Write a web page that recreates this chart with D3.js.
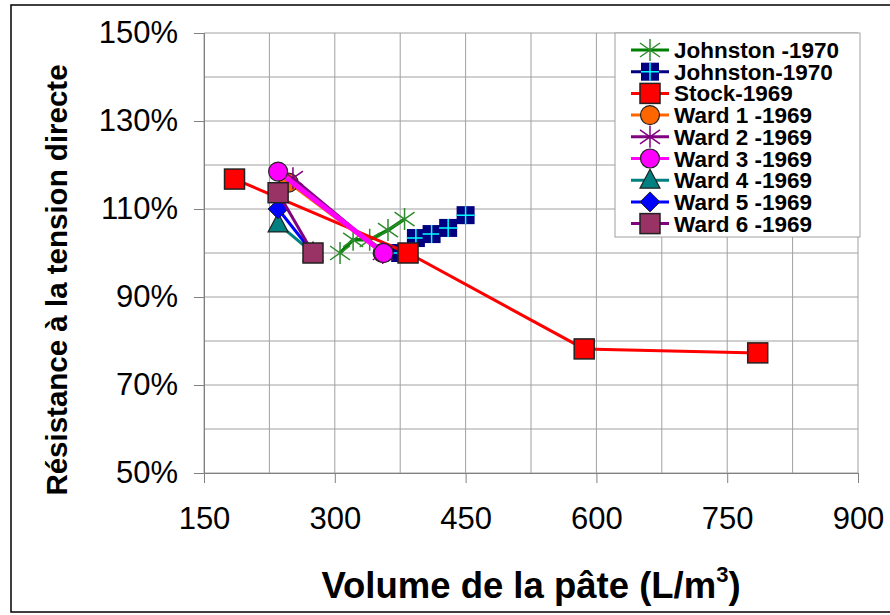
<!DOCTYPE html>
<html>
<head>
<meta charset="utf-8">
<script src="https://cdn.jsdelivr.net/npm/d3@7"></script>
<style>
  body { margin: 0; background: #fff; }
  text { font-family: Arial, "Liberation Sans", sans-serif; }
</style>
</head>
<body>
<svg id="chart" width="890" height="615"></svg>
<script>
// data
const xTicks = [150, 300, 450, 600, 750, 900];
const yTicks = [50, 70, 90, 110, 130, 150];

const johnstonA_x = [306, 321, 340, 361, 380];
const johnstonA_y = [100, 103, 103, 105.2, 107.7];
const johnstonB_x = [375, 393, 411, 430, 450];
const johnstonB_y = [100, 103.4, 104.3, 105.7, 108.6];
const stock_x = [185, 384, 586, 785];
const stock_y = [116.8, 100, 78.2, 77.3];
const ward1_x = [247, 355], ward1_y = [116, 100];
const ward2_x = [252, 355], ward2_y = [117, 100];
const ward3_x = [235, 356], ward3_y = [118.5, 100];
const ward4_x = [235, 275], ward4_y = [106.6, 100];
const ward5_x = [235, 275], ward5_y = [110, 100];
const ward6_x = [235, 275], ward6_y = [113.7, 100];

const series = [
  {name: "Johnston -1970", xs: johnstonA_x, ys: johnstonA_y, color: "#008000", marker: "star", mcolor: "#2e8b2e", width: 3.5},
  {name: "Johnston-1970", xs: johnstonB_x, ys: johnstonB_y, color: "#000080", marker: "squarePlus", mcolor: "#000080", width: 3},
  {name: "Stock-1969", xs: stock_x, ys: stock_y, color: "#ff0000", marker: "square", mcolor: "#ff0000", width: 3},
  {name: "Ward 1 -1969", xs: ward1_x, ys: ward1_y, color: "#ff6600", marker: "circle", mcolor: "#ff6600", width: 3},
  {name: "Ward 2 -1969", xs: ward2_x, ys: ward2_y, color: "#800080", marker: "star", mcolor: "#800080", width: 3},
  {name: "Ward 3 -1969", xs: ward3_x, ys: ward3_y, color: "#ff00ff", marker: "circle", mcolor: "#ff00ff", width: 5},
  {name: "Ward 4 -1969", xs: ward4_x, ys: ward4_y, color: "#008080", marker: "triangle", mcolor: "#008080", width: 3},
  {name: "Ward 5 -1969", xs: ward5_x, ys: ward5_y, color: "#0000ff", marker: "diamond", mcolor: "#0000ff", width: 3},
  {name: "Ward 6 -1969", xs: ward6_x, ys: ward6_y, color: "#800080", marker: "square", mcolor: "#993366", width: 3}
];

const svg = d3.select("#chart");
const x = d3.scaleLinear().domain([150, 900]).range([204, 858]);
const y = d3.scaleLinear().domain([50, 150]).range([473, 33]);

// outer frame
svg.append("rect").attr("x", 11).attr("y", 5).attr("width", 900).attr("height", 607)
  .attr("fill", "none").attr("stroke", "#000").attr("stroke-width", 1.5);

// grid
const grid = svg.append("g");
grid.selectAll(".gx").data(d3.range(150, 901, 75)).enter().append("line")
  .attr("x1", d => x(d)).attr("x2", d => x(d)).attr("y1", y(50)).attr("y2", y(150))
  .attr("stroke", "#a0a0a0").attr("stroke-width", 1);
grid.selectAll(".gy").data(d3.range(50, 151, 10)).enter().append("line")
  .attr("x1", x(150)).attr("x2", x(900)).attr("y1", d => y(d)).attr("y2", d => y(d))
  .attr("stroke", "#a0a0a0").attr("stroke-width", 1);

// axes
const xAxis = d3.axisBottom(x).tickValues(xTicks).tickSize(10).tickPadding(24);
const yAxis = d3.axisLeft(y).tickValues(yTicks).tickSize(10).tickPadding(16).tickFormat(d => d + "%");
const gx = svg.append("g").attr("transform", `translate(0,${y(50)})`).call(xAxis);
const gy = svg.append("g").attr("transform", `translate(${x(150)},0)`).call(yAxis);
[gx, gy].forEach(g => {
  g.selectAll("path, line").attr("stroke", "#808080");
  g.selectAll("text").attr("font-size", 31).attr("fill", "#000");
});
gx.selectAll("text").attr("dy", "0.71em");

// series
const line = d3.line().x(d => x(d[0])).y(d => y(d[1]));

function drawMarker(g, type, cx, cy, color) {
  if (type === "square") {
    g.append("rect").attr("x", cx - 10).attr("y", cy - 10).attr("width", 20).attr("height", 20)
      .attr("fill", color).attr("stroke", "#222").attr("stroke-width", 1.5);
  } else if (type === "squarePlus") {
    g.append("rect").attr("x", cx - 9).attr("y", cy - 9).attr("width", 18).attr("height", 18)
      .attr("fill", color);
    g.append("path").attr("d", `M${cx - 9},${cy}H${cx + 9}M${cx},${cy - 9}V${cy + 9}`)
      .attr("stroke", "#00ffff").attr("stroke-width", 1.5);
  } else if (type === "circle") {
    g.append("circle").attr("cx", cx).attr("cy", cy).attr("r", 9.5)
      .attr("fill", color).attr("stroke", "#222").attr("stroke-width", 1.2);
  } else if (type === "triangle") {
    g.append("path").attr("d", `M${cx},${cy - 11}L${cx + 10},${cy + 8}L${cx - 10},${cy + 8}Z`)
      .attr("fill", color).attr("stroke", "#222").attr("stroke-width", 1.2);
  } else if (type === "diamond") {
    g.append("path").attr("d", `M${cx},${cy - 10}L${cx + 10},${cy}L${cx},${cy + 10}L${cx - 10},${cy}Z`)
      .attr("fill", color).attr("stroke", "#222").attr("stroke-width", 1);
  } else if (type === "star") {
    g.append("path")
      .attr("d", `M${cx},${cy - 11}V${cy + 11}M${cx - 10},${cy - 7}L${cx + 10},${cy + 7}M${cx - 10},${cy + 7}L${cx + 10},${cy - 7}`)
      .attr("stroke", color).attr("stroke-width", 1.5).attr("fill", "none");
  }
}

series.forEach(s => {
  const pts = s.xs.map((v, i) => [v, s.ys[i]]);
  const g = svg.append("g");
  g.append("path").datum(pts).attr("d", line)
    .attr("fill", "none").attr("stroke", s.color).attr("stroke-width", s.width);
  pts.forEach(p => drawMarker(g, s.marker, x(p[0]), y(p[1]), s.mcolor));
});

// legend
const lg = svg.append("g");
lg.append("rect").attr("x", 615).attr("y", 33).attr("width", 245).attr("height", 204)
  .attr("fill", "#fff").attr("stroke", "#a0a0a0").attr("stroke-width", 1);
series.forEach((s, i) => {
  const cy = 50 + i * 21.7;
  lg.append("line").attr("x1", 631).attr("x2", 669).attr("y1", cy).attr("y2", cy)
    .attr("stroke", s.color).attr("stroke-width", 3);
  drawMarker(lg, s.marker, 650, cy, s.mcolor);
  lg.append("text").attr("x", 674).attr("y", cy + 8).attr("font-size", 22.5)
    .attr("font-weight", "bold").text(s.name);
});

// axis titles
const xt = svg.append("text").attr("x", 531).attr("y", 598).attr("text-anchor", "middle")
  .attr("font-size", 36.5).attr("font-weight", "bold");
xt.append("tspan").text("Volume de la pâte (L/m");
xt.append("tspan").attr("font-size", 22).attr("dy", -16).text("3");
xt.append("tspan").attr("dy", 16).text(")");

svg.append("text").attr("transform", "translate(67,280) rotate(-90)")
  .attr("text-anchor", "middle").attr("font-size", 29.5).attr("font-weight", "bold")
  .text("Résistance à la tension directe");
</script>
</body>
</html>
